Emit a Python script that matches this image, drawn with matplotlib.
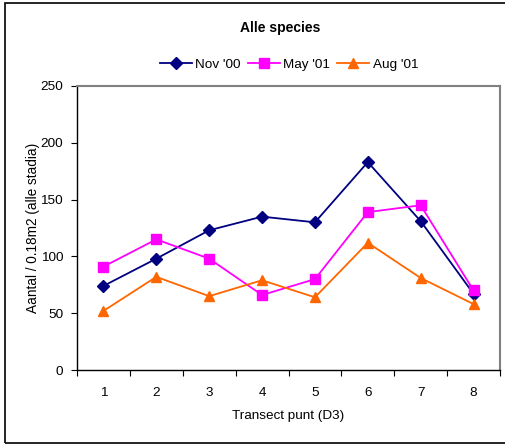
import matplotlib.pyplot as plt
from matplotlib.patches import Rectangle
from matplotlib.ticker import FixedLocator, NullFormatter

plt.rcParams["font.family"] = ["Liberation Sans", "DejaVu Sans"]

points = [1, 2, 3, 4, 5, 6, 7, 8]
nov_00 = [74, 98, 123, 135, 130, 183, 131, 67]
may_01 = [91, 115, 98, 66, 80, 139, 145, 70]
aug_01 = [52, 82, 65, 79, 64, 112, 81, 58]
y_ticks = [0, 50, 100, 150, 200, 250]

fig = plt.figure(figsize=(5.05, 4.44), dpi=100)
ax = fig.add_axes([77 / 505, 1 - 370 / 444, 423 / 505, 284 / 444])

ax.plot(points, nov_00, color="#000080", marker="D", markersize=6, lw=1.3, label="Nov '00")
ax.plot(points, may_01, color="#FF00FF", marker="s", markersize=7, lw=1.3, label="May '01")
ax.plot(points, aug_01, color="#FF6600", marker="^", markersize=7, lw=1.3, label="Aug '01")

ax.set_xlim(0.5, 8.5)
ax.set_ylim(0, 250)
ax.set_yticks(y_ticks)

# tick marks sit between categories, labels sit on the categories
ax.xaxis.set_major_locator(FixedLocator([p - 0.5 for p in points] + [8.5]))
ax.xaxis.set_major_formatter(NullFormatter())
ax.xaxis.set_minor_locator(FixedLocator(points))
ax.set_xticklabels([str(p) for p in points], minor=True)
ax.tick_params(axis="x", which="minor", length=0, pad=12, labelsize=9.7)
ax.tick_params(axis="x", which="major", length=4, width=0.8, direction="out")
ax.tick_params(axis="y", length=4, width=0.8, direction="out", pad=6, labelsize=9.7)

for side in ("left", "bottom"):
    ax.spines[side].set_color("black")
    ax.spines[side].set_linewidth(1.0)
for side in ("top", "right"):
    ax.spines[side].set_color("#808080")
    ax.spines[side].set_linewidth(1.5)

ax.set_xlabel("Transect punt (D3)", fontsize=9.7, labelpad=8)
ax.set_ylabel("Aantal / 0.18m2 (alle stadia)", fontsize=9.8, labelpad=0)

fig.text(280 / 505, 1 - 28 / 444, "Alle species", ha="center", va="center",
         fontsize=10, fontweight="bold")
fig.legend(loc="center", bbox_to_anchor=(289 / 505, 1 - 65 / 444), ncol=3,
           frameon=False, fontsize=9.7, handlelength=2.4, handletextpad=0.25,
           columnspacing=0.5)

# outer chart frame
fig.patches.append(Rectangle((4.5 / 505, 1 - 442.5 / 444), 1.2, 439.5 / 444,
                             transform=fig.transFigure, fill=False,
                             edgecolor="black", lw=1.2))

fig.savefig("out.png", dpi=100)
